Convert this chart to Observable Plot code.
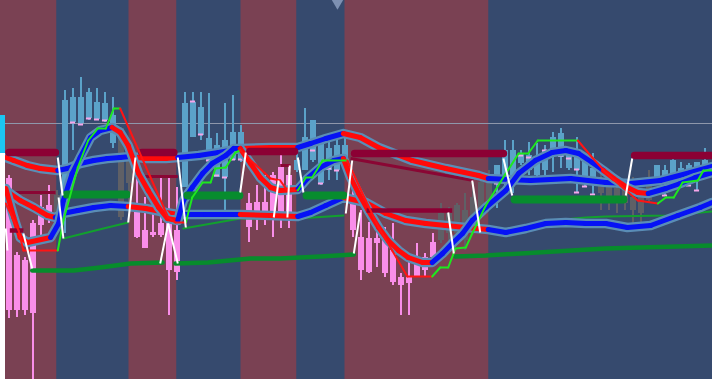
<!DOCTYPE html>
<html><head><meta charset="utf-8">
<script src="https://cdn.jsdelivr.net/npm/d3@7"></script>
<script src="https://cdn.jsdelivr.net/npm/@observablehq/plot@0.6"></script>
<style>html,body{margin:0;padding:0;background:#364a6e;overflow:hidden}svg{display:block}</style>
</head><body><div id="chart"></div>
<script>
// ---- candles (bar index 0..87), price levels ----
const openV  = [201,124,119,156,172,174,166,186,257,256, 261,260,259,236,251,229,176,149,147,156, 156,149,192,242,244,219,202,202,219,219, 176,177,177,204,212,204,209,209,219,196, 209,209,222,182,142,141,141,142,129,102, 102,122,122,137,139,146,146,139,156,169, 179,196,202,196,216,209,204,209,224,222, 211,209,202,199,194,192,191,189,182,182, 179,196,199,201,202,202,207,209];
const closeV = [69,69,69,66,154,162,184,279,282,282, 287,277,276,264,162,196,142,131,144,144, 109,107,276,277,272,241,234,239,247,247, 152,167,167,162,162,162,219,242,259,236, 231,234,234,149,109,107,136,106,97,94, 96,102,109,122,166,166,174,169,182,197, 204,214,229,229,226,224,222,229,242,246, 229,224,221,211,186,179,176,176,169,166, 199,214,209,219,211,214,217,219];
const highV  = [204,127,122,159,184,194,189,289,291,302, 291,291,287,282,252,239,202,182,176,202, 202,192,287,287,287,286,246,276,284,254, 186,194,204,207,224,212,229,271,259,239, 239,246,242,189,169,157,157,152,156,106, 119,136,126,146,176,172,176,186,197,201, 209,214,239,239,229,237,236,234,247,251, 229,242,221,226,206,202,196,192,202,189, 209,214,214,221,217,216,217,231];
const lowV   = [61,62,64,0,137,156,149,146,229,254, 259,259,257,231,159,164,141,131,142,142, 64,99,192,242,239,212,202,169,219,217, 137,149,154,142,151,151,207,209,217,194, 199,199,219,142,99,106,112,102,94,64, 64,102,102,116,136,132,139,129,146,166, 169,171,186,186,214,204,201,197,207,211, 209,187,192,184,169,169,166,169,156,156, 176,196,184,201,192,194,189,209];
// p = bearish (pink), b = bullish (light blue), g = neutral (gray)
const candleKind = "pppppp"+"g"+"bbbbbbb"+"gg"+"pppppp"+"bbbbbbbb"+"pppppp"+"bbbbbbb"+"ppppppppppp"+"ggggggg"+"bbbbbbbbbbbbb"+"ggggggg"+"bbbbbbb";
// small pink marks [bar, level]
const pinkTicks = [[8,257],[9,255],[10,261],[11,260],[12,259],[23,278],[24,245],[25,219],[26,204],[27,202],[28,220],[29,220],[38,229],[39,196],[40,211],[41,209],[61,196],[64,224],[65,222],[67,229],[69,224],[70,221],[71,210],[71,187],[72,193],[73,185],[82,184],[83,202],[85,194],[86,189]];

// ---- regimes (background) ----
const regimeStart = [-2, 6, 15, 21, 29, 36, 42, 60];
const regimeKind  = ["down","up","down","up","down","up","down","up"];

// ---- ribbons [bar, level, trend of following segment] ----
const fastRibbon = [[-0.4,191,"d"],[0.6,162,"d"],[1.4,142,"d"],[2.3,137,"d"],[5.2,142,"u"],[6.2,156,"u"],[6.8,179,"u"],[7.9,206,"u"],[8.9,222,"u"],[10.2,242,"u"],[11.4,249,"u"],[12.9,252,"d"],[13.9,247,"d"],[14.9,234,"d"],[16.2,206,"d"],[17.4,189,"d"],[18.7,172,"d"],[19.8,161,"d"],[21.1,159,"u"],[21.8,179,"u"],[22.9,192,"u"],[24.2,206,"u"],[25.4,216,"u"],[27.1,224,"u"],[28.1,231,"u"],[28.9,231,"d"],[30.2,216,"d"],[31.4,202,"d"],[32.7,192,"d"],[33.9,189,"d"],[36.1,190,"u"],[37.3,201,"u"],[38.9,212,"u"],[40.6,219,"u"],[41.8,221,"d"],[42.7,202,"d"],[43.7,186,"d"],[44.9,169,"d"],[46.2,152,"d"],[47.4,139,"d"],[48.7,129,"d"],[49.9,122,"d"],[51.7,117,"d"],[52.9,117,"u"],[54.2,126,"u"],[55.4,136,"u"],[56.7,146,"u"],[57.9,159,"u"],[59.6,172,"u"],[62.1,189,"u"],[63.7,206,"u"],[65.8,219,"u"],[67.9,227,"u"],[69.6,229,"u"],[71.2,226,"u"],[72.9,217,"u"],[74.3,209,"d"],[75.6,201,"d"],[77.3,192,"d"],[78.6,187,"d"],[79.9,186,"u"],[82.1,191,"u"],[83.9,196,"u"],[85.8,202,"u"],[87.9,207,"u"]];
const slowUpper = [[-0.4,222,"d"],[0.6,219,"d"],[2.3,214,"d"],[3.9,211,"d"],[6.1,209,"u"],[7.3,211,"u"],[8.9,216,"u"],[10.6,219,"u"],[12.3,221,"u"],[13.9,222,"u"],[15.2,223,"d"],[17.1,221,"d"],[19.6,221,"d"],[21.1,222,"u"],[23.7,224,"u"],[26.2,227,"u"],[28.9,231,"d"],[32.7,232,"d"],[36.1,232,"u"],[37.7,236,"u"],[39.6,241,"u"],[41.8,246,"d"],[43.9,242,"d"],[46.2,232,"d"],[50.4,219,"d"],[54.6,211,"d"],[58.7,204,"d"],[59.9,201,"u"],[65.2,199,"u"],[70.2,201,"u"],[74.6,197,"u"],[77.7,196,"u"],[81.4,199,"u"],[85.2,207,"u"],[87.9,213,"u"]];
const slowLower = [[-0.4,189,"d"],[1.4,179,"d"],[3.1,172,"d"],[4.8,164,"d"],[5.8,162,"u"],[6.7,166,"u"],[8.6,169,"u"],[10.6,172,"u"],[12.7,174,"u"],[14.9,173,"d"],[17.1,171,"d"],[19.6,167,"d"],[21.1,165,"u"],[24.6,165,"u"],[28.9,165,"d"],[32.7,164,"d"],[36.1,163,"u"],[37.7,167,"u"],[39.6,174,"u"],[41.8,182,"d"],[44.6,177,"d"],[47.1,166,"d"],[49.6,159,"d"],[52.1,156,"d"],[54.6,154,"d"],[57.1,152,"d"],[59.9,150,"u"],[62.1,147,"u"],[64.6,151,"u"],[67.1,156,"u"],[69.6,157,"u"],[72.1,156,"u"],[74.6,156,"u"],[77.3,152,"u"],[80.2,154,"u"],[83.6,164,"u"],[86.4,172,"u"],[87.9,177,"u"]];

// ---- trailing stop line [bar, level, trend] ----
const trailStop = [[-0.4,176,"d"],[1.2,149,"d"],[1.8,129,"d"],[6.1,129,"u"],[6.8,159,"u"],[8.6,212,"u"],[9.9,239,"u"],[11.1,251,"u"],[12.1,251,"u"],[13.1,271,"u"],[13.9,271,"d"],[19.9,162,"d"],[20.8,157,"d"],[22.1,157,"u"],[22.9,182,"u"],[24.2,197,"u"],[25.2,197,"u"],[25.8,211,"u"],[27.1,212,"u"],[28.3,227,"u"],[28.9,229,"d"],[32.7,201,"d"],[33.9,199,"d"],[34.8,189,"d"],[36.1,189,"u"],[37.1,202,"u"],[37.9,202,"u"],[39.2,219,"u"],[42.3,219,"d"],[44.6,179,"d"],[46.2,152,"d"],[47.9,129,"d"],[49.8,103,"d"],[52.9,103,"u"],[53.9,112,"u"],[54.9,112,"u"],[55.8,131,"u"],[57.1,132,"u"],[57.9,146,"u"],[59.6,174,"u"],[62.1,206,"u"],[63.7,226,"u"],[64.9,226,"u"],[66.1,239,"u"],[71.1,239,"d"],[72.9,222,"d"],[74.6,207,"d"],[76.4,194,"d"],[78.6,179,"d"],[81.1,176,"u"],[82.1,182,"u"],[83.1,182,"u"],[84.2,197,"u"],[86.1,199,"u"],[86.8,209,"u"],[87.9,209,"u"]];

// ---- slow green averages, pieces of [bar, level] ----
const longAvg = [
  [[2.9,109],[8.1,109],[11.4,112],[15.2,116],[19.2,117]],
  [[20.8,116],[24.9,117],[30.2,121],[33.9,121],[38.9,123],[43.1,125]],
  [[55.8,123],[59.6,124],[74.6,131],[87.9,134]]
];
const midAvg = [
  [[6.8,141],[9.3,146],[11.8,151],[14.9,157]],
  [[21.8,151],[28.9,161],[36.1,161],[41.8,164]],
  [[58.7,147],[63.7,152],[67.9,159],[72.1,162],[74.6,163],[82.3,164],[87.9,168]]
];

// ---- levels: [fromBar, toBar, level] ----
const resistance = [[0,5.8,227],[16.6,20.6,227],[30.1,35.7,228],[43.2,61.8,226],[78.2,88.5,224]];
const resistanceMinor = [[44.7,55.4,169],[0.1,1.8,149]];
const resistanceThin = [[-0.5,5.8,187,187],[15.8,21.1,203,203],[33.9,35.2,214,214],[42.7,58.1,221,199]];
const support = [[7.2,14.7,185],[22.3,28.8,184],[37.2,41.8,184],[63.2,76.8,180]];

// ---- swing lines [bar1, level1, bar2, level2] ----
const swings = [[-0.4,151,-0.2,129],[1.8,146,2.9,111],[6.1,222,6.7,184],[6.2,182,6.8,141],[14.9,157,15.8,222],[18.9,116,19.9,156],[19.9,156,21.1,116],[21.1,222,22.1,152],[28.9,187,29.6,227],[33.1,162,33.7,199],[34.8,162,35.1,214],[36.1,222,36.8,187],[42.1,166,42.9,219],[43.1,126,43.9,167],[54.9,167,55.6,126],[57.9,199,58.9,147],[61.8,221,62.9,184],[77.1,184,77.9,221]];

const lastPrice = 256;
const priceTag = {low: 226, high: 264};
const topMarkerBar = 41.06;

// ---- build ----
const xDomain = [-1.0625, 87.9375];
const candles = openV.map((o,i)=>({i, open:o, close:closeV[i], high:highV[i], low:lowV[i], kind:candleKind[i]}));
const kindColor = {p:"#f98ee9", b:"#5ba2c9", g:"#5f6066"};
const regimes = regimeStart.map((s,k)=>({start:s, end: k+1<regimeStart.length ? regimeStart[k+1] : 90, kind: regimeKind[k]}));
const segs = pts => d3.pairs(pts).map(([a,b])=>({x1:a[0],y1:a[1],x2:b[0],y2:b[1],t:a[2]}));
const flatPieces = pieces => pieces.flatMap((p,k)=>p.map(d=>({x:d[0],y:d[1],k})));
const ribbonColor = {u:"#0612f5", d:"#ff0a0a"};
const trailColor = {u:"#1ee81e", d:"#ff1414"};

function ribbonMarks(pts){
  return [
    Plot.line(pts,{x:d=>d[0],y:d=>d[1],stroke:"#5a8db6",strokeWidth:9.5,strokeLinejoin:"round"}),
    Plot.link(segs(pts),{x1:"x1",y1:"y1",x2:"x2",y2:"y2",stroke:d=>ribbonColor[d.t],strokeWidth:5,strokeLinecap:"round"})
  ];
}

const chart = Plot.plot({
  width:712, height:379, margin:0,
  x:{domain:xDomain, axis:null},
  y:{domain:[0,379], axis:null},
  style:{background:"#364a6e"},
  marks:[
    Plot.rect(regimes,{x1:"start",x2:"end",fill:d=>d.kind==="down"?"#7a4153":"#364a6e"}),
    Plot.ruleY([lastPrice],{stroke:"#8e97ab",strokeWidth:1}),
    Plot.ruleX(candles,{x:"i",y1:"low",y2:"high",stroke:d=>kindColor[d.kind],strokeWidth:2}),
    Plot.ruleX(candles,{x:"i",y1:"open",y2:"close",stroke:d=>kindColor[d.kind],strokeWidth:6}),
    Plot.ruleY(pinkTicks,{y:d=>d[1],x1:d=>d[0]-0.32,x2:d=>d[0]+0.32,stroke:"#f7a6ea",strokeWidth:2}),
    Plot.line(flatPieces(longAvg),{x:"x",y:"y",z:"k",stroke:"#078c2c",strokeWidth:4.5}),
    Plot.line(flatPieces(midAvg),{x:"x",y:"y",z:"k",stroke:"#12a02e",strokeWidth:2}),
    Plot.link(resistanceThin,{x1:d=>d[0],x2:d=>d[1],y1:d=>d[2],y2:d=>d[3],stroke:"#8a0634",strokeWidth:3}),
    ...ribbonMarks(slowLower),
    ...ribbonMarks(slowUpper),
    ...ribbonMarks(fastRibbon),
    Plot.link(resistance,{x1:d=>d[0],x2:d=>d[1],y1:d=>d[2],y2:d=>d[2],stroke:"#8c0034",strokeWidth:7.5,strokeLinecap:"round"}),
    Plot.link(resistanceMinor,{x1:d=>d[0],x2:d=>d[1],y1:d=>d[2],y2:d=>d[2],stroke:"#8c0034",strokeWidth:4.5}),
    Plot.link(support,{x1:d=>d[0],x2:d=>d[1],y1:d=>d[2],y2:d=>d[2],stroke:"#078c2e",strokeWidth:8,strokeLinecap:"round"}),
    Plot.link(segs(trailStop),{x1:"x1",y1:"y1",x2:"x2",y2:"y2",stroke:d=>trailColor[d.t],strokeWidth:2,strokeLinecap:"round"}),
    Plot.link(swings,{x1:d=>d[0],y1:d=>d[1],x2:d=>d[2],y2:d=>d[3],stroke:"#ffffff",strokeWidth:2}),
    Plot.rect([priceTag],{x1:xDomain[0],x2:-0.4375,y1:"low",y2:"high",fill:"#1cc6f2"}),
    Plot.rect([{low:0,high:priceTag.low}],{x1:xDomain[0],x2:-0.4375,y1:"low",y2:"high",fill:"#ffffff"}),
    Plot.dot([topMarkerBar],{x:d=>d,y:379,symbol:"triangle",rotate:180,r:6,fill:"#7d90b2"})
  ]
});
document.getElementById("chart").append(chart);
</script></body></html>
